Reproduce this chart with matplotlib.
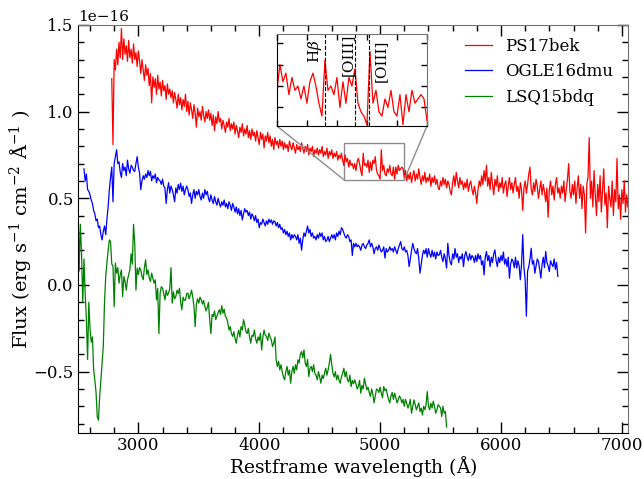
import numpy as np
import matplotlib.pyplot as plt
from matplotlib.ticker import MultipleLocator
from mpl_toolkits.axes_grid1.inset_locator import mark_inset

plt.rcParams['font.family'] = ['DejaVu Serif']
plt.rcParams['mathtext.fontset'] = 'dejavuserif'
plt.rcParams['font.size'] = 12

# flux in units of 1e-16 erg/s/cm2/A, 10 A sampling
ps17bek_start = 2780
ps17bek_flux = [
    1.19, 0.81,
    1.30, 1.24, 1.36, 1.27, 1.40, 1.31, 1.48, 1.30, 1.42, 1.33,
    1.38, 1.29, 1.41, 1.31, 1.36, 1.28, 1.39, 1.30, 1.34, 1.26,
    1.35, 1.29, 1.22, 1.30, 1.24, 1.18, 1.27, 1.21, 1.25, 1.15,
    1.22, 1.05, 1.20, 1.14, 1.19, 1.10, 1.21, 1.13, 1.17, 1.09,
    1.18, 1.12, 1.15, 1.07, 1.16, 1.10, 1.13, 1.08, 1.12, 1.05,
    1.11, 1.07, 1.02, 1.10, 1.04, 1.08, 1.01, 1.07, 1.03, 1.10,
    1.00, 1.06, 0.98, 1.05, 1.01, 0.96, 1.04, 0.99, 0.91, 1.02,
    0.97, 1.00, 0.95, 1.03, 0.98, 0.94, 1.00, 0.96, 1.01, 0.95,
    0.99, 0.92, 0.98, 0.89, 0.97, 0.93, 1.00, 0.94, 0.96, 0.90,
    0.95, 0.92, 0.88, 0.94, 0.91, 0.96, 0.89, 0.93, 0.90, 0.94,
    0.87, 0.92, 0.89, 0.85, 0.91, 0.88, 0.93, 0.86, 0.90, 0.87,
    0.92, 0.85, 0.89, 0.84, 0.90, 0.86, 0.88, 0.83, 0.89, 0.85,
    0.81, 0.88, 0.84, 0.87, 0.79, 0.86, 0.83, 0.88, 0.82, 0.86,
    0.80, 0.84, 0.78, 0.85, 0.81, 0.83, 0.79, 0.84, 0.80, 0.83,
    0.78, 0.82, 0.79, 0.81, 0.77, 0.83, 0.80, 0.78, 0.82, 0.79,
    0.76, 0.81, 0.78, 0.80, 0.77, 0.82, 0.79, 0.76, 0.80, 0.77,
    0.81, 0.75, 0.79, 0.77, 0.80, 0.74, 0.78, 0.76, 0.79, 0.75,
    0.78, 0.76, 0.80, 0.74, 0.77, 0.75, 0.79, 0.73, 0.77, 0.75,
    0.78, 0.73, 0.76, 0.74, 0.77, 0.72, 0.75, 0.73, 0.76, 0.72,
    0.69, 0.75, 0.71, 0.73, 0.68, 0.72, 0.69, 0.70, 0.67, 0.70,
    0.66, 0.71, 0.73, 0.70, 0.66, 0.63, 0.76, 0.69, 0.70, 0.68,
    0.72, 0.65, 0.71, 0.66, 0.72, 0.70, 0.74, 0.66, 0.64, 0.63,
    0.61, 0.78, 0.66, 0.69, 0.64, 0.63, 0.67, 0.65, 0.69, 0.64,
    0.63, 0.68, 0.61, 0.68, 0.64, 0.69, 0.66, 0.67, 0.68, 0.67,
    0.62, 0.66, 0.60, 0.64, 0.61, 0.65, 0.59, 0.63, 0.66, 0.60,
    0.64, 0.61, 0.67, 0.62, 0.58, 0.63, 0.60, 0.65, 0.59, 0.62,
    0.60, 0.64, 0.57, 0.62, 0.59, 0.63, 0.58, 0.61, 0.56, 0.55,
    0.60, 0.57, 0.62, 0.58, 0.61, 0.56, 0.60, 0.58, 0.54, 0.52,
    0.59, 0.63, 0.57, 0.65, 0.60, 0.56, 0.62, 0.58, 0.60, 0.55,
    0.59, 0.56, 0.61, 0.54, 0.58, 0.60, 0.55, 0.52, 0.57, 0.53,
    0.47, 0.55, 0.60, 0.57, 0.63, 0.58, 0.66, 0.60, 0.69, 0.57,
    0.62, 0.55, 0.65, 0.58, 0.52, 0.61, 0.57, 0.63, 0.54, 0.59,
    0.56, 0.62, 0.53, 0.58, 0.60, 0.51, 0.57, 0.62, 0.55, 0.59,
    0.53, 0.58, 0.62, 0.54, 0.57, 0.50, 0.59, 0.55, 0.43, 0.56,
    0.60, 0.53, 0.58, 0.64, 0.68, 0.55, 0.52, 0.59, 0.54, 0.61,
    0.57, 0.50, 0.55, 0.60, 0.52, 0.58, 0.54, 0.48, 0.56, 0.39,
    0.55, 0.60, 0.52, 0.57, 0.49, 0.58, 0.62, 0.53, 0.56, 0.50,
    0.57, 0.53, 0.60, 0.48, 0.55, 0.61, 0.70, 0.54, 0.50, 0.58,
    0.52, 0.60, 0.47, 0.56, 0.63, 0.50, 0.58, 0.44, 0.57, 0.52,
    0.30, 0.58, 0.62, 0.85, 0.50, 0.60, 0.45, 0.66, 0.52, 0.40,
    0.58, 0.48, 0.63, 0.42, 0.55, 0.67, 0.46, 0.53, 0.33, 0.57,
    0.50, 0.45, 0.60, 0.40, 0.55, 0.48, 0.73, 0.44, 0.52, 0.38,
    0.55, 0.47, 0.60, 0.42, 0.52, 0.45,
]

ogle16dmu_start = 2550
ogle16dmu_flux = [
    0.67, 0.60, 0.64, 0.55, 0.54,
    0.52, 0.49, 0.47, 0.43, 0.41, 0.37, 0.38, 0.33, 0.34, 0.29,
    0.26, 0.31, 0.34, 0.29, 0.38, 0.45, 0.55, 0.62, 0.68, 0.48,
    0.70, 0.74, 0.78, 0.70, 0.71, 0.65, 0.62, 0.70, 0.66, 0.68,
    0.63, 0.72, 0.67, 0.645, 0.69, 0.68, 0.66, 0.655, 0.70, 0.74,
    0.68, 0.645, 0.55, 0.60, 0.63, 0.61, 0.64, 0.62, 0.66, 0.63,
    0.655, 0.60, 0.63, 0.615, 0.64, 0.59, 0.62, 0.606, 0.60, 0.58,
    0.61, 0.57, 0.56, 0.47, 0.55, 0.59, 0.53, 0.57, 0.55, 0.52,
    0.48, 0.56, 0.53, 0.58, 0.55, 0.587, 0.54, 0.57, 0.52, 0.55,
    0.57, 0.55, 0.51, 0.53, 0.47, 0.52, 0.55, 0.50, 0.54, 0.52,
    0.55, 0.51, 0.49, 0.53, 0.50, 0.55, 0.52, 0.54, 0.50, 0.48,
    0.52, 0.49, 0.47, 0.51, 0.48, 0.46, 0.50, 0.47, 0.45, 0.48,
    0.46, 0.49, 0.45, 0.47, 0.44, 0.48, 0.46, 0.43, 0.47, 0.45,
    0.42, 0.45, 0.41, 0.44, 0.40, 0.43, 0.375, 0.41, 0.44, 0.42,
    0.43, 0.40, 0.42, 0.38, 0.41, 0.395, 0.37, 0.40, 0.36, 0.38,
    0.33, 0.36, 0.35, 0.38, 0.36, 0.34, 0.37, 0.35, 0.38, 0.36,
    0.375, 0.35, 0.37, 0.365, 0.34, 0.36, 0.33, 0.35, 0.32, 0.33,
    0.30, 0.32, 0.29, 0.31, 0.28, 0.30, 0.26, 0.29, 0.27, 0.29,
    0.28, 0.26, 0.29, 0.24, 0.27, 0.20, 0.26, 0.30, 0.28, 0.31,
    0.34, 0.30, 0.32, 0.28, 0.30, 0.27, 0.28, 0.26, 0.29, 0.27,
    0.30, 0.28, 0.30, 0.26, 0.28, 0.25, 0.26, 0.28, 0.25, 0.27,
    0.29, 0.27, 0.29, 0.26, 0.30, 0.28, 0.31, 0.29, 0.33, 0.32,
    0.30, 0.28, 0.27, 0.29, 0.28, 0.25, 0.26, 0.17, 0.24, 0.22,
    0.24, 0.22, 0.23, 0.22, 0.20, 0.23, 0.24, 0.22, 0.21, 0.23,
    0.24, 0.26, 0.22, 0.24, 0.22, 0.18, 0.21, 0.22, 0.20, 0.23,
    0.21, 0.19, 0.20, 0.22, 0.155, 0.21, 0.19, 0.20, 0.22, 0.20,
    0.21, 0.19, 0.22, 0.20, 0.18, 0.21, 0.23, 0.25, 0.21, 0.20,
    0.22, 0.19, 0.20, 0.17, 0.106, 0.15, 0.20, 0.24, 0.21, 0.19,
    0.18, 0.21, 0.15, 0.068, 0.12, 0.17, 0.20, 0.18, 0.21, 0.16,
    0.21, 0.18, 0.16, 0.20, 0.164, 0.19, 0.15, 0.19, 0.17, 0.174,
    0.20, 0.16, 0.135, 0.18, 0.15, 0.097, 0.24, 0.17, 0.13, 0.116,
    0.18, 0.15, 0.21, 0.16, 0.18, 0.13, 0.164, 0.15, 0.18, 0.106,
    0.17, 0.193, 0.16, 0.14, 0.18, 0.145, 0.17, 0.16, 0.13, 0.17,
    0.135, 0.18, 0.15, 0.17, 0.116, 0.14, 0.058, 0.16, 0.193, 0.14,
    0.17, 0.106, 0.16, 0.13, 0.18, 0.202, 0.14, 0.106, 0.16, 0.13,
    0.17, 0.14, 0.19, 0.12, 0.15, 0.106, 0.16, 0.039, 0.12, 0.15,
    0.135, 0.10, 0.16, 0.097, 0.14, 0.11, 0.03, 0.12, 0.29, 0.10,
    0.03, -0.18, 0.08, 0.106, 0.15, 0.212, 0.12, 0.14, 0.068, 0.11,
    0.15, 0.135, 0.09, 0.039, 0.12, 0.16, 0.10, 0.193, 0.13, 0.11,
    0.077, 0.14, 0.12, 0.106, 0.15, 0.09, 0.13, 0.05,
]

lsq15bdq_start = 2500
lsq15bdq_flux = [
    0.50, 0.08, 0.35, 0.18, -0.10, 0.15, -0.05, -0.20, -0.43, -0.10,
    -0.25, -0.33, -0.30, -0.49, -0.55, -0.62, -0.76, -0.78, -0.64, -0.55,
    -0.45, -0.35, -0.10, 0.05, 0.13, 0.20, 0.26, 0.25, 0.12, 0.11,
    -0.125, 0.126, 0.068, 0.10, 0.01, 0.06, 0.087, -0.067, 0.049, 0.02,
    -0.03, 0.03, 0.06, 0.087, 0.18, 0.12, 0.35, 0.24, -0.03, 0.097,
    0.06, 0.10, 0.087, 0.05, 0.03, 0.10, 0.145, 0.06, 0.087, 0.04,
    0.02, 0.068, 0.04, 0.01, 0.03, -0.086, -0.02, -0.28, -0.047, -0.01,
    -0.019, -0.05, -0.086, -0.03, -0.06, -0.047, -0.02, 0.10, -0.105, -0.04,
    -0.08, -0.067, -0.03, -0.05, -0.019, -0.10, -0.143, -0.07, -0.09, -0.086,
    -0.05, -0.047, -0.08, -0.057, -0.03, -0.07, -0.124, -0.24, -0.11, -0.08,
    -0.105, -0.07, -0.086, -0.11, -0.09, -0.124, -0.15, -0.13, -0.10, -0.20,
    -0.28, -0.17, -0.182, -0.15, -0.20, -0.18, -0.16, -0.143, -0.17, -0.12,
    -0.163, -0.14, -0.182, -0.19, -0.22, -0.26, -0.24, -0.28, -0.297, -0.27,
    -0.31, -0.336, -0.29, -0.26, -0.30, -0.24, -0.26, -0.20, -0.23, -0.27,
    -0.28, -0.25, -0.30, -0.336, -0.29, -0.297, -0.26, -0.31, -0.336, -0.30,
    -0.32, -0.278, -0.375, -0.30, -0.26, -0.29, -0.297, -0.32, -0.278, -0.30,
    -0.317, -0.355, -0.336, -0.30, -0.432, -0.47, -0.44, -0.49, -0.46, -0.50,
    -0.53, -0.547, -0.50, -0.47, -0.52, -0.49, -0.567, -0.50, -0.47, -0.51,
    -0.46, -0.49, -0.432, -0.45, -0.40, -0.384, -0.42, -0.374, -0.45, -0.47,
    -0.43, -0.528, -0.48, -0.47, -0.50, -0.46, -0.509, -0.52, -0.547, -0.50,
    -0.53, -0.567, -0.52, -0.54, -0.509, -0.48, -0.52, -0.49, -0.45, -0.40,
    -0.46, -0.509, -0.53, -0.50, -0.547, -0.52, -0.55, -0.567, -0.53, -0.51,
    -0.48, -0.53, -0.50, -0.547, -0.56, -0.52, -0.586, -0.55, -0.57, -0.547,
    -0.57, -0.60, -0.586, -0.55, -0.624, -0.58, -0.60, -0.538, -0.57, -0.605,
    -0.59, -0.62, -0.643, -0.60, -0.63, -0.68, -0.64, -0.60, -0.605, -0.62,
    -0.59, -0.624, -0.65, -0.586, -0.61, -0.60, -0.634, -0.66, -0.68, -0.64,
    -0.62, -0.66, -0.624, -0.65, -0.68, -0.663, -0.64, -0.653, -0.68, -0.66,
    -0.70, -0.66, -0.682, -0.71, -0.69, -0.66, -0.74, -0.70, -0.663, -0.69,
    -0.72, -0.70, -0.68, -0.73, -0.71, -0.75, -0.70, -0.72, -0.69, -0.615,
    -0.70, -0.72, -0.682, -0.71, -0.67, -0.70, -0.74, -0.72, -0.69, -0.70,
    -0.71, -0.759, -0.70, -0.74, -0.73, -0.82,
]

line_waves = [4861, 4959, 5007]

spectra = [('PS17bek', ps17bek_start, ps17bek_flux, 'red'),
           ('OGLE16dmu', ogle16dmu_start, ogle16dmu_flux, 'blue'),
           ('LSQ15bdq', lsq15bdq_start, lsq15bdq_flux, 'green')]


def style_axes(ax):
    for side in ['left', 'bottom']:
        ax.spines[side].set_color('black')
    for side in ['top', 'right']:
        ax.spines[side].set_color('0.45')
    ax.tick_params(which='both', direction='in', top=True, right=True)
    ax.tick_params(which='major', length=8, width=1)
    ax.tick_params(which='minor', length=4, width=1)


fig = plt.figure(figsize=(6.44, 4.79), dpi=100)
ax = fig.add_axes([0.121, 0.096, 0.854, 0.852])

for name, start, flux, col in spectra:
    wave = start + 10 * np.arange(len(flux))
    ax.plot(wave, np.array(flux) * 1e-16, color=col, lw=0.9, label=name)

ax.set_xlim(2500, 7050)
ax.set_ylim(-0.854e-16, 1.5e-16)
ax.xaxis.set_major_locator(MultipleLocator(1000))
ax.xaxis.set_minor_locator(MultipleLocator(200))
ax.yaxis.set_major_locator(MultipleLocator(0.5e-16))
ax.yaxis.set_minor_locator(MultipleLocator(0.1e-16))
style_axes(ax)
ax.tick_params(which='major', pad=3)
offset = ax.yaxis.get_offset_text()
offset.set_fontsize(11)
offset.set_verticalalignment('baseline')
ax.set_xlabel('Restframe wavelength ($\\mathrm{\\AA}$)', fontsize=13.5, labelpad=0)
ax.set_ylabel('Flux (erg s$^{-1}$ cm$^{-2}$ $\\mathrm{\\AA}^{-1}$ )', fontsize=14, labelpad=0)
ax.legend(loc='upper right', frameon=False, handlelength=1.6,
          bbox_to_anchor=(1.0, 1.005))

# zoom on the narrow lines
axins = fig.add_axes([0.430, 0.737, 0.233, 0.192])
w = ps17bek_start + 10 * np.arange(len(ps17bek_flux))
axins.plot(w, np.array(ps17bek_flux) * 1e-16, color='red', lw=0.9)
axins.set_xlim(4700, 5200)
axins.set_ylim(0.607e-16, 0.821e-16)
axins.xaxis.set_major_locator(MultipleLocator(100))
axins.yaxis.set_major_locator(MultipleLocator(0.05e-16))
style_axes(axins)
axins.tick_params(which='major', length=4)
axins.tick_params(labelbottom=False, labelleft=False)
axins.yaxis.get_offset_text().set_visible(False)
for lw_ in line_waves:
    axins.axvline(lw_, color='black', ls='--', lw=0.8)
axins.text(4826, 0.808e-16, 'H$\\beta$', rotation=90, ha='center', va='top', fontsize=11)
axins.text(4937, 0.821e-16, '[OIII]', rotation=90, ha='center', va='top', fontsize=11)
axins.text(5047, 0.808e-16, '[OIII]', rotation=90, ha='center', va='top', fontsize=11)
mark_inset(ax, axins, loc1=3, loc2=4, fc='none', ec='0.55', lw=1)

plt.savefig('out.png', dpi=100)
